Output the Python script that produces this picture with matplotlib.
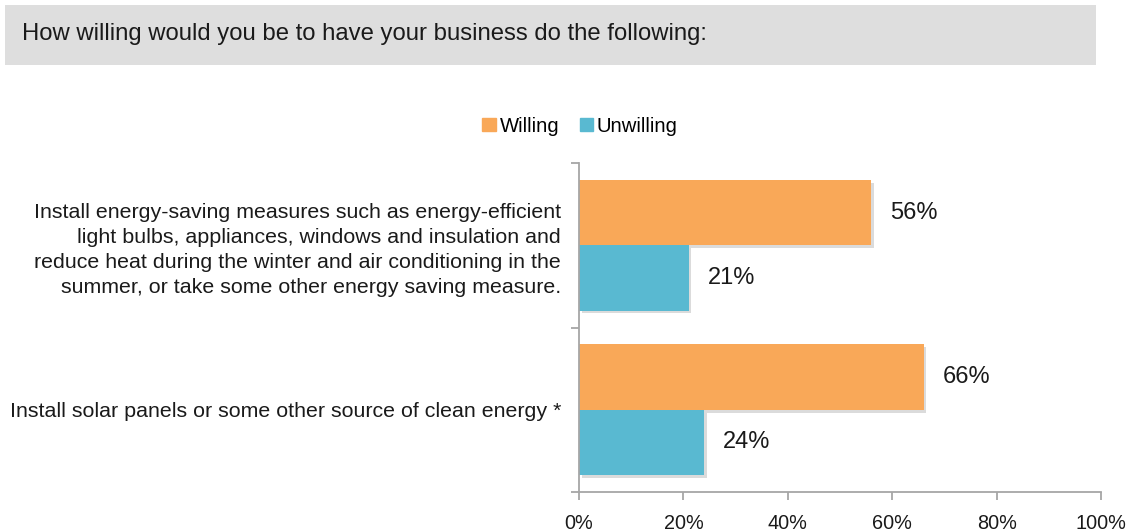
import matplotlib.pyplot as plt
import matplotlib.patheffects as pe
from matplotlib.patches import Rectangle, Patch

plt.rcParams['font.family'] = ['Liberation Sans', 'DejaVu Sans']

# data
categories = [
    "Install energy-saving measures such as energy-efficient\n"
    "light bulbs, appliances, windows and insulation and\n"
    "reduce heat during the winter and air conditioning in the\n"
    "summer, or take some other energy saving measure.",
    "Install solar panels or some other source of clean energy *",
]
willing = [56, 66]
unwilling = [21, 24]
series_names = ["Willing", "Unwilling"]
x_ticks = [0, 20, 40, 60, 80, 100]

orange = '#F9A858'
blue = '#59B9D1'
axis_grey = '#A6A6A6'

fig = plt.figure(figsize=(11.31, 5.31), dpi=100)

# header box
fig.patches.append(Rectangle((5 / 1131, 1 - 65 / 531), 1091 / 1131, 60 / 531,
                             transform=fig.transFigure, facecolor='#DEDEDE',
                             edgecolor='none', zorder=0))
fig.text(22 / 1131, 1 - 34 / 531, "How willing would you be to have your business do the following:",
         fontsize=17.2, va='center', ha='left', color='#1a1a1a')

ax = fig.add_axes([579 / 1131, 1 - 492 / 531, 522 / 1131, 329 / 531])

pos = list(range(len(categories)))
h = 0.397
shadow = [pe.SimplePatchShadow(offset=(2, -2), shadow_rgbFace='#999999', alpha=0.35), pe.Normal()]
b1 = ax.barh([p - h / 2 for p in pos], willing, height=h, color=orange, label=series_names[0])
b2 = ax.barh([p + h / 2 for p in pos], unwilling, height=h, color=blue, label=series_names[1])
for bar in list(b1) + list(b2):
    bar.set_path_effects(shadow)

for p, v in zip(pos, willing):
    ax.text(v + 3.6, p - h / 2, f"{v}%", va='center', ha='left', fontsize=17, color='#1a1a1a')
for p, v in zip(pos, unwilling):
    ax.text(v + 3.6, p + h / 2, f"{v}%", va='center', ha='left', fontsize=17, color='#1a1a1a')

ax.set_ylim(1.5, -0.5)
ax.set_xlim(0, 100)
ax.set_xticks(x_ticks)
ax.set_xticklabels([f"{t}%" for t in x_ticks], fontsize=14.3, color='#1a1a1a')
ax.set_yticks([-0.5, 0.5, 1.5])
ax.set_yticklabels([])
ax.set_yticks(pos, minor=True)
ax.set_yticklabels(categories, minor=True, fontsize=15.4, color='#1a1a1a', linespacing=1.4)
ax.tick_params(axis='y', which='minor', length=0, pad=13)
ax.tick_params(axis='y', which='major', length=6, color=axis_grey, width=1.3)
ax.tick_params(axis='x', length=6, color=axis_grey, width=1.3, pad=10)

for s in ['top', 'right']:
    ax.spines[s].set_visible(False)
for s in ['left', 'bottom']:
    ax.spines[s].set_color(axis_grey)
    ax.spines[s].set_linewidth(1.3)

fig.legend(handles=[Patch(color=orange, label=series_names[0]), Patch(color=blue, label=series_names[1])],
           loc='center', bbox_to_anchor=(580 / 1131, 1 - 126 / 531), ncol=2, frameon=False,
           fontsize=14.6, handlelength=0.65, handleheight=0.65, handletextpad=0.2,
           columnspacing=1.0)

fig.savefig('out.png', dpi=100)
